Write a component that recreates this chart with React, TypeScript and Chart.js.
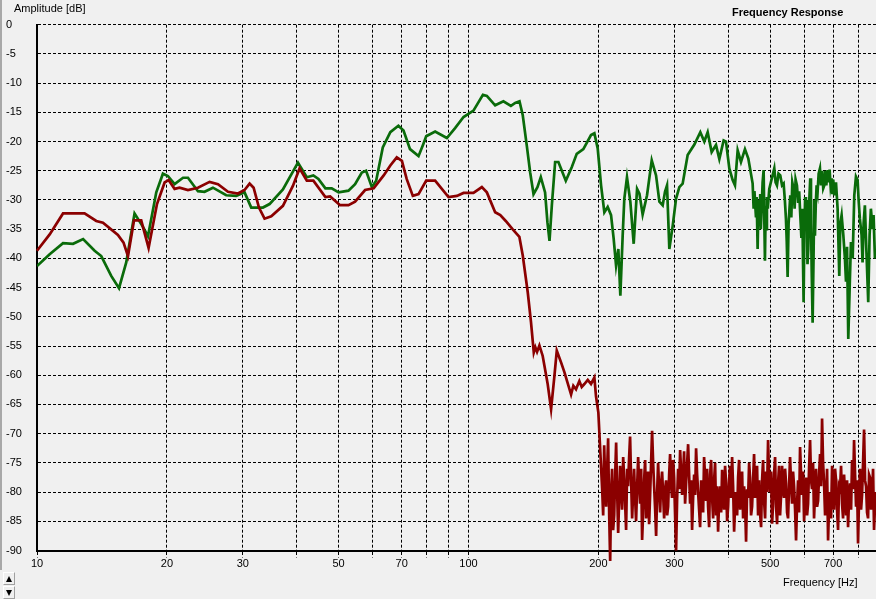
import { useEffect, useRef } from "react";
import { Chart, registerables } from "chart.js";

Chart.register(...registerables);

const FONT = "'Liberation Sans', Arial, sans-serif";
const RED = "#8B0000";
const GREEN = "#0A6B0A";

const X_MIN = 10;
const X_MAX = 880;
const X_TICKS = [10, 20, 30, 40, 50, 60, 70, 80, 90, 100, 200, 300, 400, 500, 600, 700, 800];
const X_LABELED = [10, 20, 30, 50, 70, 100, 200, 300, 500, 700];
const Y_MIN = -90;
const Y_MAX = 0;
const Y_STEP = 5;

// red trace: low / mid band [Hz, dB]
const redLow: [number, number][] = [
  [10, -38.7], [10.7, -35.9], [11.49, -32.3], [12.89, -32.3], [13.72, -33.6], [14.22, -33.9],
  [15.4, -36.0], [15.87, -37.3], [16.25, -39.6], [16.78, -33.5], [17.44, -33.5], [18.14, -38.2],
  [18.97, -30.7], [19.76, -27.0], [20.18, -26.6], [20.84, -28.1], [21.4, -27.9], [22.38, -28.3],
  [23.61, -27.9], [25.12, -26.9], [26.27, -27.3], [27.71, -28.6], [29.22, -28.9], [30.27, -28.3],
  [31.1, -27.2], [31.77, -27.9], [32.69, -31.3], [33.68, -33.2], [34.91, -32.8], [37.15, -31.0],
  [39.18, -27.6], [40.6, -24.6], [42.2, -26.7], [43.7, -26.7], [46.6, -29.5], [47.8, -29.4],
  [50.4, -30.9], [52.7, -30.9], [54.6, -30.3], [57.6, -28.3], [60.3, -28.0], [63.6, -25.8],
  [65.9, -24.1], [68.2, -22.7], [70.1, -23.3], [71.9, -26.4], [74.3, -29.3], [76.6, -29.0],
  [79.8, -26.7], [83.7, -26.7], [89.9, -29.5], [94.0, -29.3], [97.4, -28.8], [102.7, -28.8],
  [107.4, -27.8], [110.3, -28.7], [115.3, -32.1], [118.5, -32.6], [122, -33.6], [126.5, -35.0],
  [131.2, -36.3], [133.6, -39.5], [137.2, -45.8], [139.6, -50.9], [141.7, -56.1], [142.9, -55.2],
  [144.2, -56.0], [146, -54.9], [148.6, -56.7], [152.6, -61.5], [155.4, -65.8], [158.2, -60.1],
  [160.2, -55.8], [163.9, -57.8], [166.9, -59.5], [172.9, -63.3], [175, -61.8], [177.5, -62.4],
  [180.7, -61.0], [183, -62.0], [185.6, -61.5], [189, -60.8], [192.3, -61.5], [195.8, -60.4],
  [197.5, -63.6], [200, -66.4],
];

// red trace: noise floor above 200 Hz [Hz, dB]
const redNoise: [number, number][] = [
  [204.1, -79.5], [205.2, -84.0], [206.3, -72.0], [207.4, -78.0], [208.5, -82.5], [209.6, -76.0],
  [210.7, -70.8], [211.9, -84.0], [213.0, -91.8], [214.1, -80.0], [215.2, -76.0], [216.4, -86.5],
  [217.6, -84.0], [218.8, -77.0], [219.9, -71.5], [221.1, -80.0], [222.3, -87.0], [223.5, -81.0],
  [224.6, -75.5], [225.8, -79.5], [227.0, -83.0], [228.3, -74.0], [229.5, -77.5], [230.7, -82.0],
  [231.9, -86.5], [233.2, -76.0], [234.4, -79.0], [235.7, -74.0], [236.9, -70.5], [238.2, -78.0],
  [239.5, -84.5], [240.8, -80.0], [242.0, -76.0], [243.3, -81.0], [244.6, -85.0], [246.0, -79.0],
  [247.3, -74.0], [248.6, -78.5], [249.9, -82.0], [251.3, -76.0], [252.6, -88.2], [254.0, -83.5],
  [255.3, -78.0], [256.7, -74.5], [258.1, -84.5], [259.5, -80.0], [260.8, -76.5], [262.2, -85.5],
  [263.6, -80.5], [265.0, -75.0], [266.4, -69.5], [267.9, -75.0], [269.3, -79.0], [270.8, -83.0],
  [272.2, -87.5], [273.7, -80.0], [275.1, -75.0], [276.6, -79.5], [278.1, -83.5], [279.6, -78.5],
  [281.0, -76.5], [282.6, -80.5], [284.1, -84.5], [285.6, -79.5], [287.1, -78.0], [288.7, -84.0],
  [290.2, -82.5], [291.8, -77.0], [293.3, -73.5], [294.9, -79.0], [296.4, -81.0], [298.0, -74.5],
  [299.6, -77.5], [301.2, -84.0], [302.8, -90.0], [304.5, -81.0], [306.1, -76.0], [307.8, -79.5],
  [309.4, -72.8], [311.1, -76.5], [312.7, -80.5], [314.4, -77.0], [316.0, -73.0], [317.7, -82.0],
  [319.4, -78.5], [321.2, -75.0], [322.9, -71.8], [324.6, -77.0], [326.3, -82.0], [328.1, -78.0],
  [329.8, -86.5], [331.6, -81.0], [333.4, -77.0], [335.2, -80.5], [336.9, -72.5], [338.8, -77.0],
  [340.6, -80.0], [342.4, -83.0], [344.2, -86.0], [346.1, -78.0], [347.9, -79.5], [349.8, -83.5],
  [351.6, -74.0], [353.5, -77.5], [355.4, -81.5], [357.3, -76.0], [359.2, -82.5], [361.2, -86.0],
  [363.1, -77.0], [365.1, -74.5], [367.0, -81.0], [369.0, -84.5], [370.9, -78.0], [372.9, -75.0],
  [374.9, -84.0], [376.9, -79.0], [378.9, -86.8], [381.0, -81.5], [383.0, -79.0], [385.1, -83.5],
  [387.1, -76.2], [389.2, -80.0], [391.2, -83.0], [393.3, -75.5], [395.4, -78.5], [397.6, -85.0],
  [399.7, -82.5], [401.8, -78.0], [403.9, -75.5], [406.1, -81.0], [408.3, -74.0], [410.5, -79.0],
  [412.7, -86.8], [414.9, -82.0], [417.1, -80.0], [419.4, -84.0], [421.6, -77.5], [423.9, -74.5],
  [426.1, -83.0], [428.4, -79.0], [430.7, -76.5], [433.0, -84.5], [435.3, -79.0], [437.6, -82.0],
  [439.9, -88.5], [442.3, -79.5], [444.7, -81.0], [447.1, -75.0], [449.4, -77.5], [451.8, -84.0],
  [454.2, -82.5], [456.7, -78.0], [459.1, -73.5], [461.6, -81.0], [464.0, -79.0], [466.5, -75.5],
  [469.0, -84.0], [471.6, -78.0], [474.1, -83.7], [476.6, -86.0], [479.1, -78.0], [481.7, -74.5],
  [484.3, -81.5], [486.9, -84.5], [489.5, -76.5], [492.1, -80.0], [494.7, -71.1], [497.4, -77.5],
  [500.0, -80.0], [502.7, -76.5], [505.4, -85.4], [508.1, -82.0], [510.8, -77.0], [513.6, -74.0],
  [516.3, -82.5], [519.1, -85.5], [521.8, -78.5], [524.6, -75.5], [527.4, -84.0], [530.3, -80.5],
  [533.1, -75.5], [536.0, -79.5], [538.8, -81.0], [541.7, -76.0], [544.6, -78.5], [547.5, -83.5],
  [550.4, -84.5], [553.4, -79.0], [556.3, -74.0], [559.3, -78.5], [562.3, -82.0], [565.3, -76.5],
  [568.3, -79.0], [571.4, -83.0], [574.4, -88.3], [577.5, -82.0], [580.6, -78.0], [583.7, -83.5],
  [586.8, -72.3], [590.0, -77.0], [593.1, -80.5], [596.3, -76.5], [599.5, -85.0], [602.7, -81.0],
  [605.9, -77.5], [609.2, -84.0], [612.4, -82.0], [615.7, -76.0], [619.0, -71.1], [622.3, -78.0],
  [625.6, -79.5], [629.0, -75.0], [632.3, -84.5], [635.7, -80.0], [639.1, -76.0], [642.6, -82.5],
  [646.0, -81.5], [649.5, -77.0], [652.9, -73.5], [656.4, -79.0], [659.9, -67.4], [663.5, -75.0],
  [667.0, -78.5], [670.6, -84.0], [674.2, -81.0], [677.8, -76.0], [681.4, -88.3], [685.1, -82.0],
  [688.7, -80.0], [692.4, -84.5], [696.1, -75.5], [699.8, -80.0], [703.5, -83.0], [707.3, -76.0],
  [711.1, -78.0], [714.9, -83.0], [718.7, -86.5], [722.6, -79.0], [726.4, -79.5], [730.3, -75.5],
  [734.2, -82.0], [738.2, -84.5], [742.1, -77.0], [746.1, -80.5], [750.1, -84.0], [754.1, -78.0],
  [758.1, -86.0], [762.2, -81.0], [766.2, -78.5], [770.4, -83.0], [774.5, -74.5], [778.7, -79.5],
  [782.8, -71.1], [787.0, -77.0], [791.2, -82.5], [795.4, -78.0], [799.6, -88.8], [803.9, -81.0],
  [808.2, -76.0], [812.6, -83.0], [816.9, -80.5], [821.3, -75.0], [825.7, -69.3], [830.1, -78.0],
  [834.5, -79.0], [839.0, -83.5], [843.5, -84.5], [848.0, -77.0], [852.5, -77.5], [857.1, -83.0],
  [861.7, -81.0], [866.3, -76.0], [870.9, -86.5], [875.6, -82.0], [880.3, -80.0],
];

// green trace: up to 450 Hz [Hz, dB]
const greenLow: [number, number][] = [
  [10, -41.3], [10.7, -39.3], [11.49, -37.4], [12.12, -37.5], [12.79, -36.7], [13.6, -38.7],
  [14.09, -39.6], [14.86, -43.0], [15.49, -45.1], [16.1, -40.7], [16.83, -32.3], [17.6, -34.6],
  [18.08, -36.2], [18.9, -28.7], [19.58, -25.5], [20.11, -25.9], [20.84, -27.3], [21.8, -26.2],
  [22.38, -26.2], [23.61, -28.5], [24.45, -28.6], [25.57, -27.9], [27.45, -29.2], [28.96, -29.3],
  [30.27, -28.7], [31.37, -31.3], [33.39, -31.3], [34.59, -30.7], [37.15, -28.2], [40.25, -23.6],
  [42.2, -26.1], [43.7, -25.8], [44.9, -26.4], [46.6, -28.0], [48.2, -28.0], [50.0, -28.7],
  [52.7, -28.4], [54.6, -27.3], [56.6, -25.3], [57.9, -25.0], [59.7, -27.8], [61.1, -26.7],
  [63.3, -21.0], [65.9, -18.4], [68.8, -17.3], [70.7, -18.1], [73.2, -21.3], [76.6, -22.5],
  [78.6, -20.4], [79.8, -19.1], [83.7, -18.3], [89.1, -19.4], [93.1, -17.7], [97.4, -15.8],
  [102.7, -14.7], [108, -12.0], [110.3, -12.2], [115.3, -13.8], [120.5, -13.1], [125.4, -13.9],
  [128.3, -13.4], [131.3, -13.1], [133.6, -15.5], [136.5, -20.7], [139, -25.3], [141.5, -29.0],
  [144.5, -27.8], [147.1, -26.1], [150.5, -28.7], [152.4, -33.8], [154.1, -37.0], [156, -31.0],
  [158.8, -23.5], [161.6, -23.5], [168.1, -26.7], [173.5, -24.4], [178.2, -22.1], [184.6, -21.3],
  [192.3, -18.9], [195.8, -18.6], [199.3, -21.2], [202.9, -27.5], [206.5, -32.1], [210.2, -31.2],
  [214, -32.6], [217, -36.6], [219.8, -41.2], [222.5, -38.4], [224.9, -46.4], [227.7, -36.1],
  [229.7, -29.8], [233, -26.1], [237.2, -30.3], [241.5, -37.5], [245.9, -28.1], [249, -28.9],
  [253.3, -32.5], [259.3, -29.2], [265.9, -23.2], [272.1, -25.8], [277, -30.3], [281.9, -30.9],
  [285.4, -28.6], [288.5, -27.5], [292.1, -38.4], [297.4, -34.4], [302.7, -29.8], [308.1, -27.8],
  [313.6, -27.2], [322.1, -22.3], [333.8, -20.5], [344.6, -18.4], [352, -20.0], [358.4, -18.4],
  [366.1, -21.8], [374.7, -20.6], [381.4, -23.0], [390.3, -19.8], [395.2, -20.0], [402.3, -24.6],
  [409.5, -26.6], [414.6, -27.5], [420.6, -21.5], [428.1, -23.5], [437.3, -21.3], [445.2, -22.9],
];

// green trace: above 450 Hz [Hz, dB]
const greenHigh: [number, number][] = [
  [455.6, -27.2], [458, -31.5], [460, -28.5], [463.8, -33.0], [465.5, -29.5], [467.9, -38.4],
  [470, -30.0], [472.1, -34.5], [474.5, -29.0], [476, -35.0], [478, -31.5], [480.5, -27.0],
  [483.1, -24.9], [484.8, -33.0], [486.5, -40.4], [488.5, -31.0], [490, -35.0], [491.7, -29.5],
  [494, -31.5], [497.9, -28.1], [502, -27.0], [506.8, -25.8], [511.4, -24.6], [515, -27.0],
  [518.7, -27.5], [523, -25.5], [528, -25.8], [533, -27.5], [537.5, -27.2], [541, -30.0],
  [544.2, -33.2], [546.5, -37.0], [549.1, -43.2], [552, -34.0], [557, -29.2], [560, -33.0],
  [563, -27.0], [567, -28.1], [570, -31.5], [573, -26.5], [577.1, -27.5], [581, -30.5],
  [584, -28.5], [587.5, -32.6], [591, -36.5], [594, -31.5], [596, -40.0], [598, -47.5],
  [600.5, -35.0], [603, -29.5], [605.5, -33.2], [608, -30.0], [610.5, -41.0], [613.1, -38.4],
  [616, -30.5], [619.6, -26.3], [622, -34.0], [624.5, -42.5], [627.5, -51.0], [630.5, -40.0],
  [633, -30.0], [635.3, -36.1], [638, -31.0], [641, -27.5], [644.4, -28.6], [648, -25.5],
  [652.5, -24.6], [656, -27.5], [660, -25.0], [664, -28.0], [667.7, -27.5], [671, -25.0],
  [675, -27.5], [679.8, -24.9], [683, -27.0], [687, -24.8], [690.5, -27.5], [694.4, -26.3],
  [697, -29.0], [700.5, -26.5], [704.4, -29.2], [710.8, -27.0], [717, -31.5], [723.4, -43.0],
  [727.4, -34.0], [732.5, -32.6], [739.2, -36.0], [745.6, -40.1], [749.8, -44.0], [754, -38.0],
  [759, -53.8], [764.6, -45.0], [769.9, -37.2], [777, -40.0], [783.7, -29.2], [790.7, -26.0],
  [797.7, -26.6], [802, -30.0], [807.4, -33.2], [814.9, -36.0], [819.1, -40.7], [823.7, -34.0],
  [829.3, -30.9], [835.4, -38.0], [844.3, -47.5], [850.4, -36.0], [856.3, -31.5], [864.2, -35.0],
  [868.6, -32.6], [875.0, -40.0], [880, -38.5],
];

const toXY = (arr: [number, number][]) => arr.map(([x, y]) => ({ x, y }));

export default function App() {
  const ref = useRef<HTMLCanvasElement>(null);

  useEffect(() => {
    document.body.style.margin = "0";
    const canvas = ref.current;
    if (!canvas) return;
    const chart = new Chart(canvas, {
      type: "line",
      data: {
        datasets: [
          {
            label: "Red",
            data: toXY([...redLow, ...redNoise]),
            borderColor: RED,
            backgroundColor: RED,
            borderWidth: 2.7,
            pointRadius: 0,
            tension: 0,
            fill: false,
            clip: false,
          },
          {
            label: "Green",
            data: toXY([...greenLow, ...greenHigh]),
            borderColor: GREEN,
            backgroundColor: GREEN,
            borderWidth: 2.7,
            pointRadius: 0,
            tension: 0,
            fill: false,
          },
        ],
      },
      options: {
        responsive: false,
        animation: false,
        events: [],
        layout: { padding: { left: 6, top: 24.7, right: 0, bottom: 0 } },
        plugins: {
          legend: { display: false },
          tooltip: { enabled: false },
          title: { display: false },
        },
        scales: {
          x: {
            type: "logarithmic",
            position: "bottom",
            min: X_MIN,
            max: X_MAX,
            afterBuildTicks: (s: any) => {
              s.ticks = X_TICKS.map((v) => ({ value: v }));
            },
            afterFit: (s: any) => {
              s.height = 48.5;
            },
            ticks: {
              autoSkip: false,
              maxRotation: 0,
              minRotation: 0,
              padding: 0,
              color: "#000",
              font: { family: FONT, size: 11 },
              callback: (v: any) => (X_LABELED.includes(Number(v)) ? String(v) : ""),
            },
            grid: {
              color: "#000",
              lineWidth: 1,
              drawTicks: true,
              tickLength: 7,
              tickColor: "#000",
              tickBorderDash: [3, 2],
            },
            border: { display: true, color: "#000", width: 2, dash: [3, 2] },
          },
          y: {
            type: "linear",
            min: Y_MIN,
            max: Y_MAX,
            afterFit: (s: any) => {
              s.width = 31;
            },
            ticks: {
              stepSize: Y_STEP,
              crossAlign: "far",
              padding: 0,
              color: "#000",
              font: { family: FONT, size: 11 },
              callback: (v: any) => String(v),
            },
            grid: { color: "#000", lineWidth: 1, drawTicks: false },
            border: { display: true, color: "#000", width: 2, dash: [3, 2] },
          },
        },
      },
    } as any);
    return () => chart.destroy();
  }, []);

  const textBase: any = {
    position: "absolute",
    fontFamily: FONT,
    fontSize: 11,
    lineHeight: "13px",
    color: "#000",
    whiteSpace: "nowrap",
  };
  const btn: any = {
    position: "absolute",
    left: 3,
    width: 12,
    height: 13,
    background: "#f0f0f0",
    borderTop: "1px solid #fff",
    borderLeft: "1px solid #fff",
    borderRight: "1px solid #a0a0a0",
    borderBottom: "1px solid #a0a0a0",
    boxSizing: "border-box",
  };

  return (
    <div style={{ position: "relative", width: 876, height: 599, background: "#F0F0F0", overflow: "hidden" }}>
      <canvas ref={ref} width={876} height={599} style={{ position: "absolute", left: 0, top: 0 }} />
      <div style={{ position: "absolute", left: 0, top: 0, width: 2, height: 570, background: "#a8a8a8" }} />
      <div style={{ ...textBase, left: 14, top: 2 }}>Amplitude [dB]</div>
      <div style={{ ...textBase, left: 732, top: 6, fontWeight: "bold" }}>Frequency Response</div>
      <div style={{ ...textBase, left: 783, top: 576 }}>Frequency [Hz]</div>
      <div style={{ ...btn, top: 572 }}>
        <div style={{ position: "absolute", left: 2, top: 3, width: 0, height: 0, borderLeft: "3.5px solid transparent", borderRight: "3.5px solid transparent", borderBottom: "6px solid #000" }} />
      </div>
      <div style={{ ...btn, top: 586 }}>
        <div style={{ position: "absolute", left: 2, top: 3, width: 0, height: 0, borderLeft: "3.5px solid transparent", borderRight: "3.5px solid transparent", borderTop: "6px solid #000" }} />
      </div>
    </div>
  );
}
